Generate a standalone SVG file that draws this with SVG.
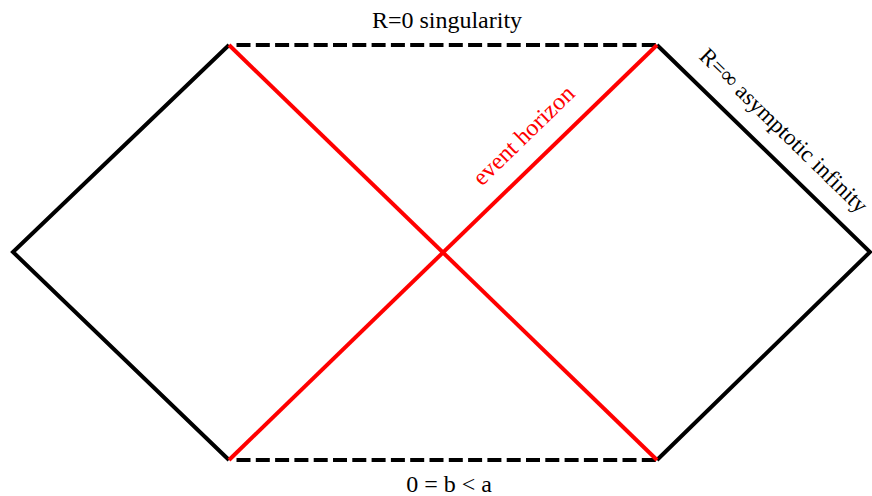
<svg xmlns="http://www.w3.org/2000/svg" width="872" height="496" viewBox="0 0 872 496">
<style>
.edge{stroke:#000;stroke-width:4;fill:none;stroke-linecap:butt;stroke-linejoin:miter}
.dash{stroke:#000;stroke-width:4;fill:none;stroke-dasharray:14 5.3}
.hor{stroke:#ff0000;stroke-width:4;fill:none}
.lbl{font-family:"Liberation Serif","Times New Roman",serif;font-size:24px;fill:#000}
.red{fill:#ff0000}
.sm{font-size:23px}
</style>
<rect width="872" height="496" fill="#fff"/>
<g id="connectors">
<polyline class="edge" points="229,45 13,252 229,460"/>
<polyline class="edge" points="657,45 870,252 657,460"/>
<line class="dash" x1="236.5" y1="45" x2="657" y2="45"/>
<line class="dash" x1="236.5" y1="460" x2="657" y2="460"/>
<line class="hor" x1="229" y1="45" x2="657" y2="460"/>
<line class="hor" x1="657" y1="45" x2="229" y2="460"/>
</g>
<g id="singularity">
<text class="lbl" x="447" y="28" text-anchor="middle">R=0 singularity</text>
</g>
<g id="bottom">
<text class="lbl" x="449" y="492" text-anchor="middle">0 = b &lt; a</text>
</g>
<g id="horizon">
<text class="lbl red" x="529" y="141" text-anchor="middle" transform="rotate(-44.2 529 141)">event horizon</text>
</g>
<g id="infinity">
<text class="lbl sm" x="778.5" y="136" text-anchor="middle" transform="rotate(44.2 778.5 136)">R=∞ asymptotic infinity</text>
</g>
</svg>
